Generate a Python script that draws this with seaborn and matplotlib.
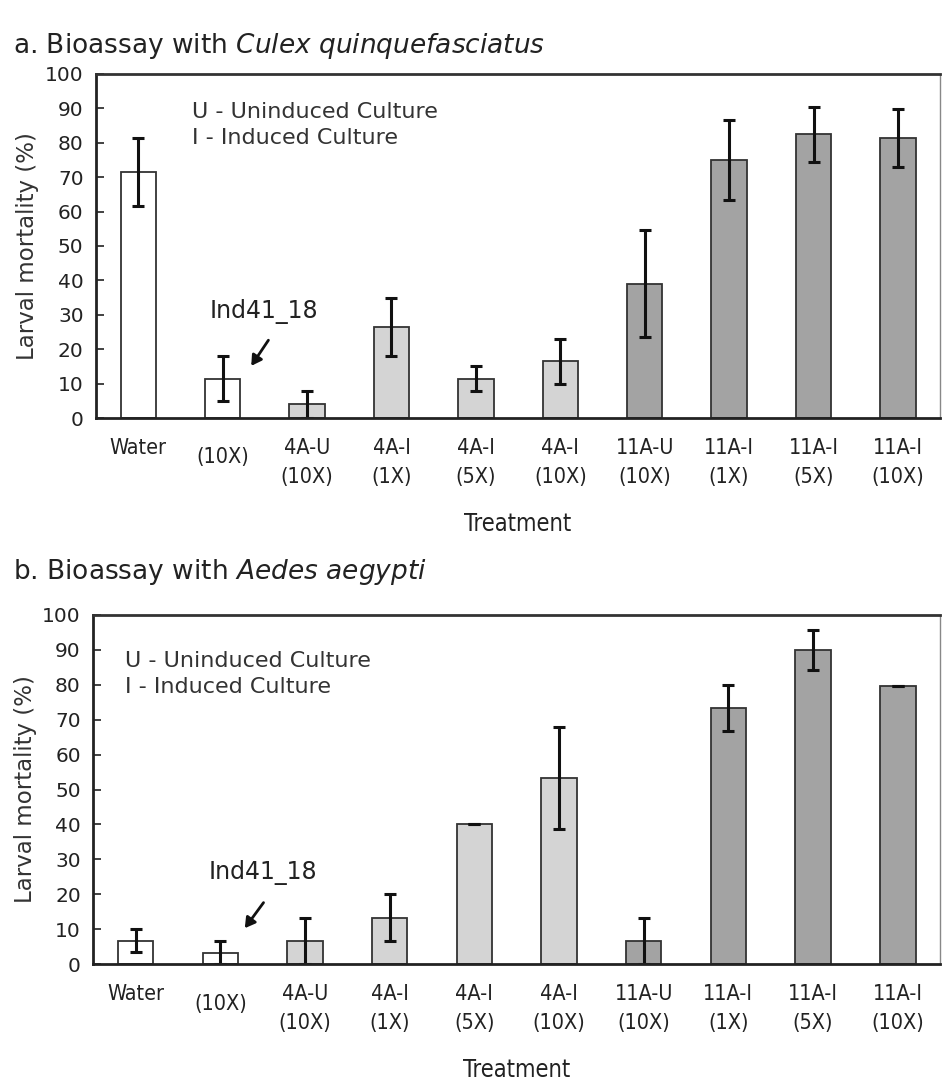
import numpy as np
import pandas as pd
import matplotlib
matplotlib.use("Agg")
import matplotlib.pyplot as plt
import matplotlib.transforms as mtrans
import seaborn as sns

labels = ["Water", "(10X)", "4A-U\n(10X)", "4A-I\n(1X)", "4A-I\n(5X)", "4A-I\n(10X)",
          "11A-U\n(10X)", "11A-I\n(1X)", "11A-I\n(5X)", "11A-I\n(10X)"]
groups = ["ctrl", "ctrl", "4A", "4A", "4A", "4A", "11A", "11A", "11A", "11A"]

culex_mean = [71.5, 11.5, 4.0, 26.5, 11.5, 16.5, 39.0, 75.0, 82.5, 81.3]
culex_err = [10.0, 6.5, 4.0, 8.5, 3.7, 6.5, 15.5, 11.7, 8.0, 8.5]

aedes_mean = [6.7, 3.3, 6.7, 13.3, 40.0, 53.3, 6.7, 73.3, 90.0, 79.7]
aedes_err = [3.3, 3.3, 6.7, 6.7, 0.0, 14.5, 6.7, 6.7, 5.7, 0.0]

pal = {"ctrl": "#ffffff", "4A": "#d4d4d4", "11A": "#a3a3a3"}

sns.set_style("white")
plt.rcParams['font.family'] = ['DejaVu Sans']
plt.rcParams['mathtext.fontset'] = 'dejavusans'

fig = plt.figure(figsize=(9.42, 10.86), dpi=100)
ax_a = fig.add_axes([0.102, 0.615, 0.896, 0.317])
ax_b = fig.add_axes([0.099, 0.112, 0.899, 0.322])


def draw_panel(ax, means, errs, note_xy, ind_xy, arrow_from, arrow_to):
    df = pd.DataFrame({"label": labels, "mean": means, "group": groups})
    sns.barplot(data=df, x="label", y="mean", hue="group", palette=pal, dodge=False,
                width=0.42, edgecolor="#333333", linewidth=1.3, legend=False, ax=ax)
    ax.errorbar(np.arange(len(labels)), means, yerr=errs, fmt="none", ecolor="#111111",
                elinewidth=2.2, capsize=4, capthick=2.2)
    ax.set_xlim(-0.5, len(labels) - 0.5)
    ax.set_ylim(0, 100)
    ax.set_yticks(range(0, 101, 10))
    ax.tick_params(axis="y", direction="in", length=6, width=1.2, labelsize=14.5, pad=9,
                   left=True, colors="#222222")
    ax.tick_params(axis="x", length=0, pad=14)
    for lbl in ax.get_xticklabels():
        lbl.set_fontfamily('DejaVu Sans')
        lbl.set_fontstretch('condensed')
        lbl.set_fontsize(15.5)
        lbl.set_linespacing(1.6)
        lbl.set_color("#222222")
    ax.set_ylabel("Larval mortality (%)", fontsize=16.5, color="#333333", labelpad=4)
    ax.set_xlabel("Treatment", fontsize=17, color="#222222", labelpad=18,
                  fontstretch='condensed')
    for s in ["left", "bottom"]:
        ax.spines[s].set_linewidth(2)
        ax.spines[s].set_color("#222222")
    ax.spines["top"].set_linewidth(2)
    ax.spines["top"].set_color("#333333")
    ax.spines["right"].set_linewidth(1)
    ax.spines["right"].set_color("#888888")
    ax.text(note_xy[0], note_xy[1], "U - Uninduced Culture\nI - Induced Culture",
            fontsize=16, color="#333333", va="top", linespacing=1.35)
    ax.text(ind_xy[0], ind_xy[1], "Ind41_18", fontsize=17, color="#222222",
            ha="center", va="center")
    ax.annotate("", xy=arrow_to, xytext=arrow_from,
                arrowprops=dict(arrowstyle="-|>,head_width=0.35,head_length=0.6",
                                color="#111111", lw=2))


draw_panel(ax_a, culex_mean, culex_err, (0.64, 91.8), (1.49, 31), (1.56, 23.3), (1.32, 14.5))
draw_panel(ax_b, aedes_mean, aedes_err, (-0.12, 89.6), (1.50, 26.3), (1.53, 18.3), (1.27, 9.7))

# "(10X)" under the second bar sits a bit lower than the one-line labels
for ax in (ax_a, ax_b):
    lbl = ax.get_xticklabels()[1]
    lbl.set_transform(lbl.get_transform() +
                      mtrans.ScaledTranslation(0, -7 / 72, fig.dpi_scale_trans))

fig.text(0.014, 0.958, r"a. Bioassay with $\it{Culex\ quinquefasciatus}$",
         fontsize=19, color="#222222", va="center")
fig.text(0.014, 0.473, r"b. Bioassay with $\it{Aedes\ aegypti}$",
         fontsize=19, color="#222222", va="center")

fig.savefig("out.png", dpi=100)
